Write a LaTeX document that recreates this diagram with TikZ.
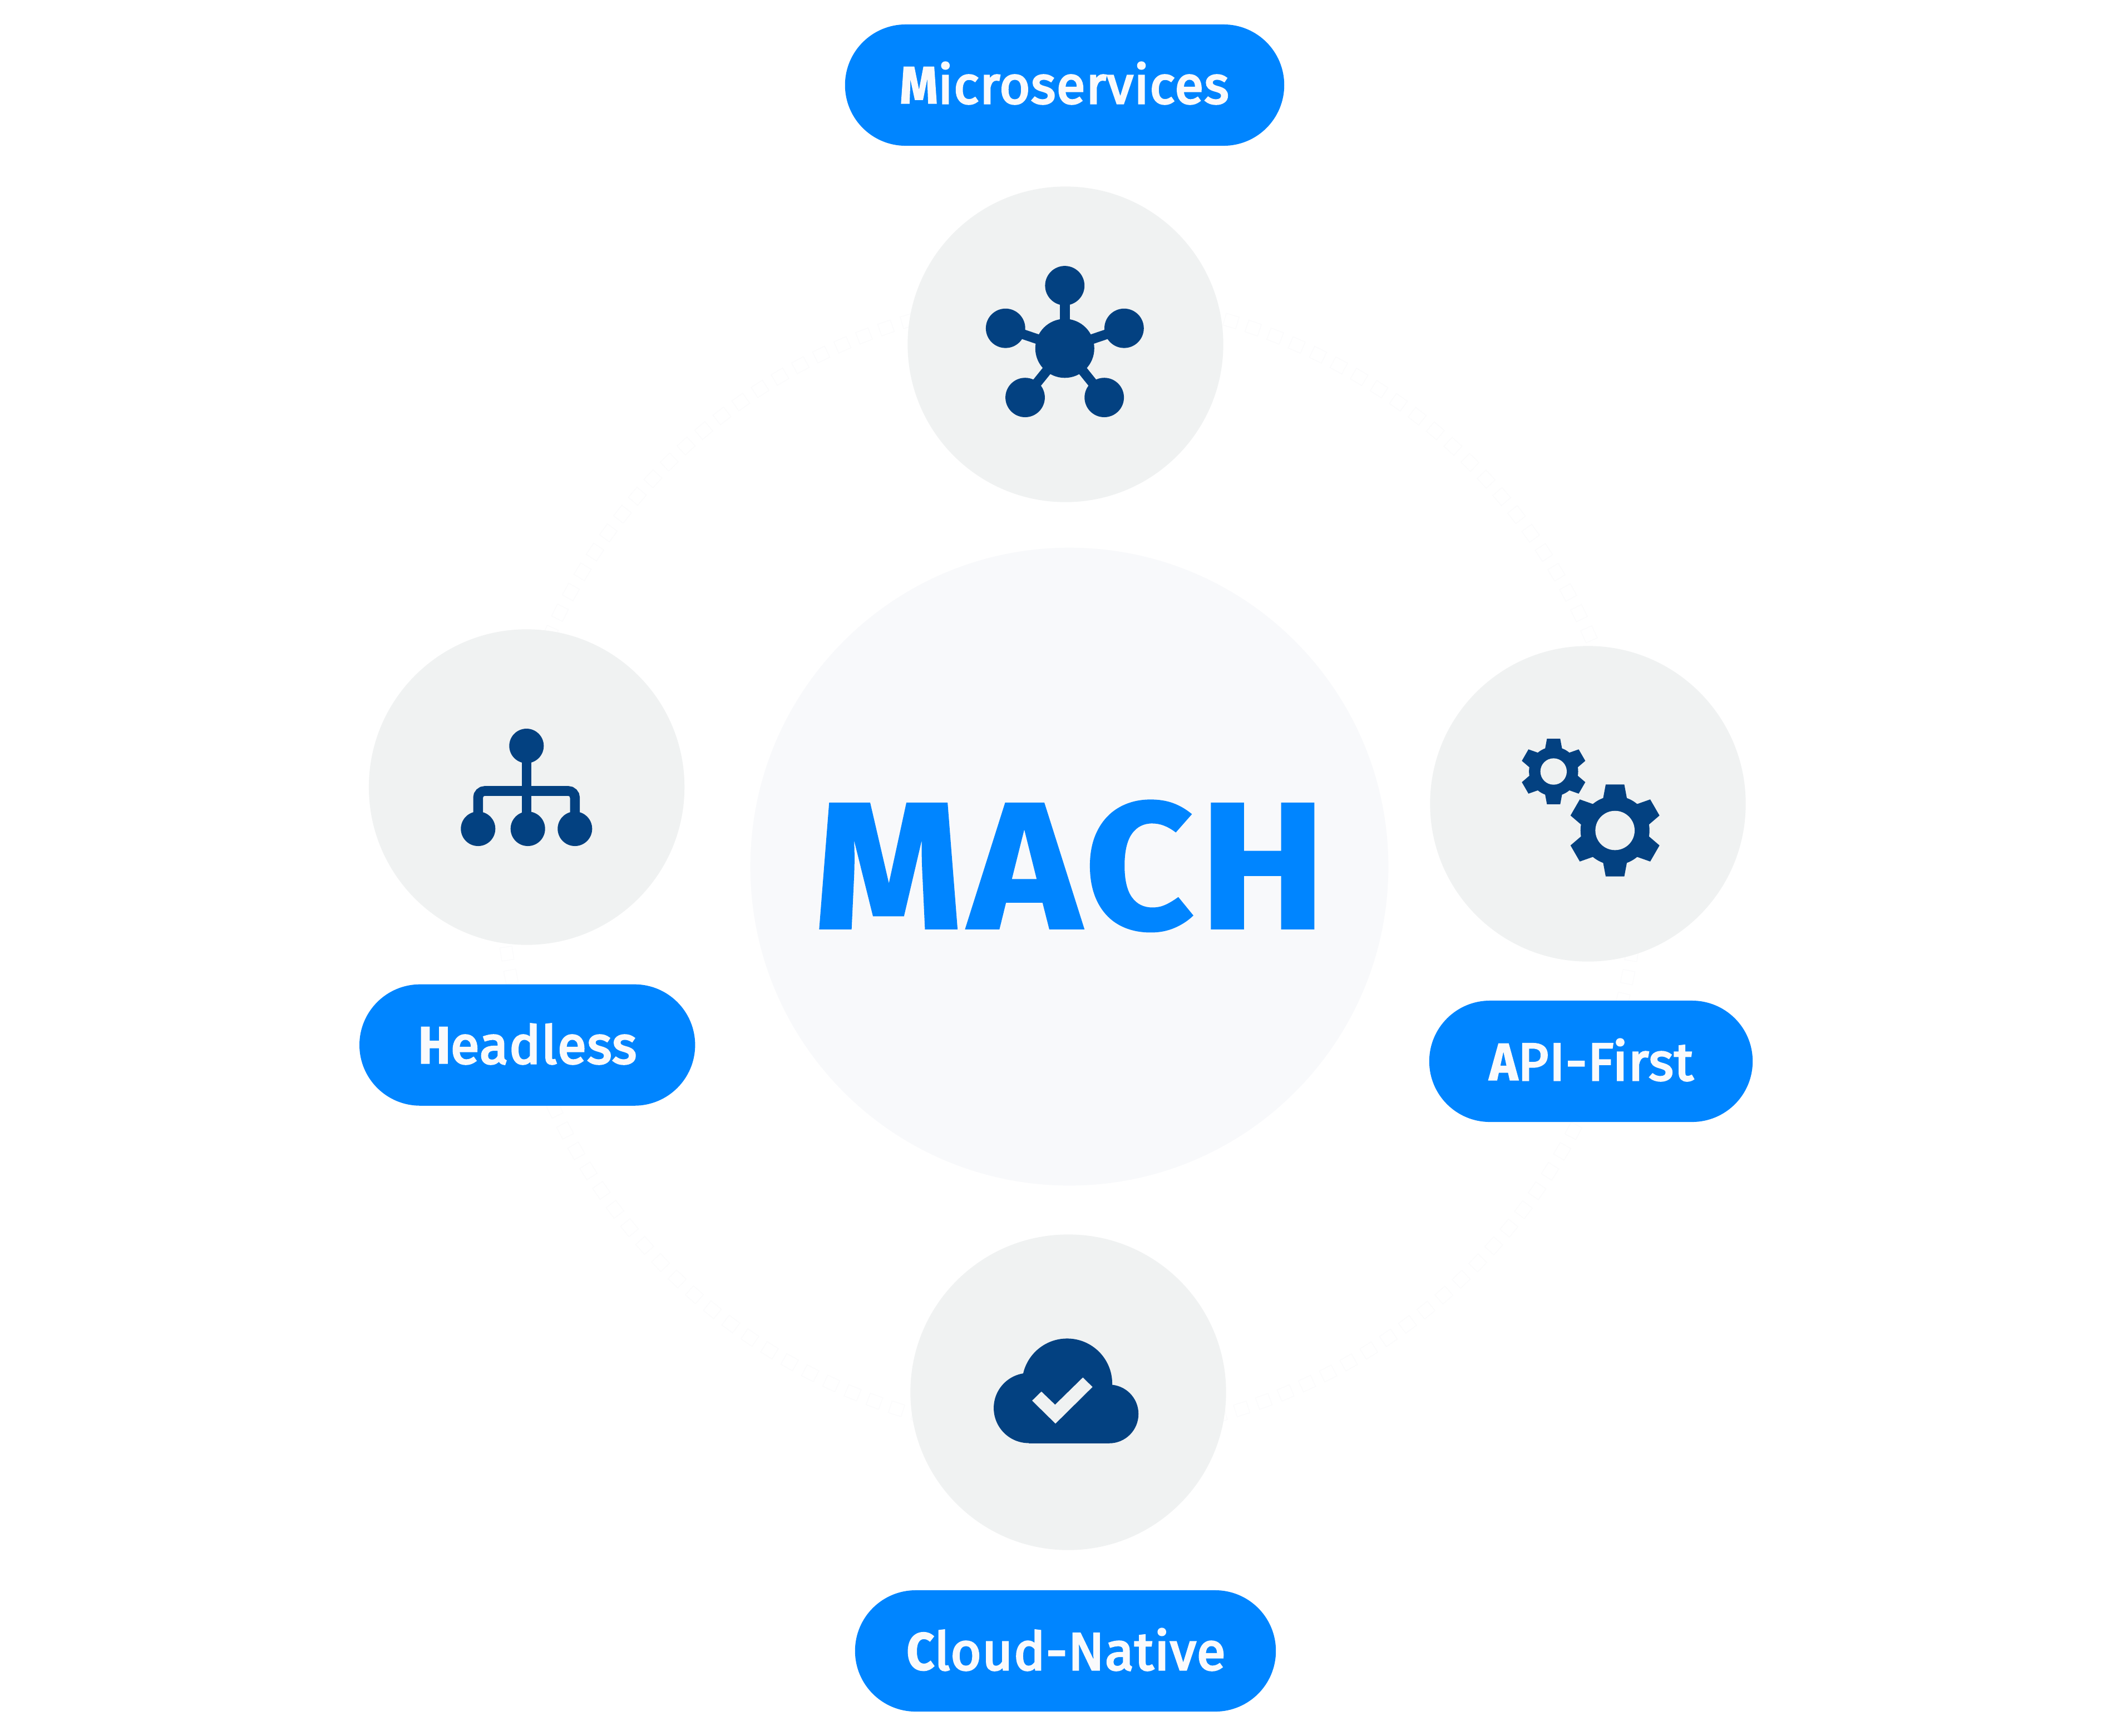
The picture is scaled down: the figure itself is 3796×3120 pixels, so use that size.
\documentclass[tikz,border=0pt]{standalone}
\usepackage{fontspec}
\setmainfont{Fira Sans}
\newfontfamily\machfont[FakeStretch=1.05,FakeBold=1.2,LetterSpace=3.5]{Fira Sans Bold}
\newfontfamily\pillfont[FakeBold=3.5,LetterSpace=1.5]{Fira Sans}
\newfontfamily\pillcap[FakeStretch=0.92,FakeBold=1.5,LetterSpace=1.5]{Fira Sans Bold}
\definecolor{pillblue}{HTML}{0085FF}
\definecolor{navy}{HTML}{034181}
\definecolor{disc}{HTML}{F0F2F2}
\definecolor{hub}{HTML}{F8F9FB}
\definecolor{lbl}{HTML}{FAFAFC}
\definecolor{ringline}{HTML}{FBFBFC}
\tikzset{
  discnode/.style={circle,fill=disc,minimum size=5.67cm,inner sep=0,draw=none},
  pillnode/.style={rectangle,rounded corners=1.09cm,fill=pillblue,inner sep=0,minimum height=2.18cm,draw=none},
  pilltext/.style={anchor=base,inner sep=0,text=lbl,font=\fontsize{27}{30}\selectfont\pillfont},
  ic/.style={fill=navy,draw=none},
  icline/.style={draw=navy,line width=.176cm,line cap=butt},
  ringdash/.style={draw=ringline,fill=white,line width=.012cm},
}
\newcommand{\gearshape}[3]{%
  \begin{scope}[shift={(#1,#2)},scale=#3]
    \fill[navy] (0,0) circle (62);
    \foreach \r in {0,60,...,300}{
      \fill[navy,rotate=\r] (-21.7,-56) -- (-16.7,-82.7) -- (16.7,-82.7) -- (21.7,-56) -- cycle;
    }
  \end{scope}}
\begin{document}
\begin{tikzpicture}[x=0.01cm,y=-0.01cm]
\useasboundingbox (0,0) rectangle (3796,3120);
\fill[white] (0,0) rectangle (3796,3120);
% faint dashed ring
\foreach \i in {0,...,152}{
  \pgfmathsetmacro\a{73.5+\i*2.353}
  \draw[ringdash,shift={(1922,1558)},rotate=\a] (1012,-12) rectangle (1034,12);
}
% discs
\node[circle,fill=hub,minimum size=11.46cm,inner sep=0] (hubdisc) at (1922,1558) {};
\node[discnode] (dmicro) at (1915,619) {};
\node[discnode] (dhead) at (946.6,1415) {};
\node[discnode] (dapi) at (2854,1445) {};
\node[discnode] (dcloud) at (1920,2503) {};
% central title
\node[anchor=base,inner sep=0,text=pillblue,font=\fontsize{92}{100}\selectfont\machfont] (mach) at (1923,1669) {MACH};
% pills
\node[pillnode,minimum width=7.89cm] (pmicro) at (1913.5,153) {};
\node[pillnode,minimum width=6.03cm] (phead) at (947.7,1878.7) {};
\node[pillnode,minimum width=5.81cm] (papi) at (2859.5,1908) {};
\node[pillnode,minimum width=7.56cm] (pcloud) at (1915,2968) {};
\node[pilltext] (tmicro) at (1913,186) {{\pillcap M}icroservices};
\node[pilltext] (thead) at (948,1912) {{\pillcap H}eadless};
\node[pilltext] (tapi) at (2860,1942) {{\pillcap A}PI-First};
\node[pilltext] (tcloud) at (1916,3002) {{\pillcap C}loud-Native};
% microservices icon
\coordinate (mc) at (1913.8,626.3);
\coordinate (m1) at (1913.8,513.5);
\coordinate (m2) at (1807.3,590.2);
\coordinate (m3) at (2020.4,590.2);
\coordinate (m4) at (1842.5,714.6);
\coordinate (m5) at (1984.7,714.6);
\foreach \m in {m1,m2,m3,m4,m5}{
  \draw[icline] (mc) -- (\m);
  \fill[navy] (\m) circle (35.4);
}
\fill[navy] (mc) circle (53);
% headless icon
\coordinate (h0) at (946.3,1341);
\coordinate (h1) at (859.3,1490);
\coordinate (h2) at (948.7,1490);
\coordinate (h3) at (1033.3,1490);
\draw[icline] (h0) -- (946.3,1490);
\draw[icline,rounded corners=.12cm] (h1) -- (859.3,1422) -- (1033.3,1422) -- (h3);
\foreach \m in {h0,h1,h2,h3}{\fill[navy] (\m) circle (31);}
% gears
\gearshape{2792.3}{1387}{0.713}
\fill[disc] (2792.3,1387) circle (23.7);
\gearshape{2902.7}{1493}{1}
\fill[disc] (2902.7,1493) circle (35.3);
% cloud
\begin{scope}[shift={(1700,2350)},x=0.003333cm,y=-0.003333cm]
  \fill[navy] (448,545) circle [radius=.63cm];
  \fill[navy] (882,577) circle [radius=.527cm];
  \fill[navy] (655,413) circle [radius=.81cm];
  \fill[navy] (448,420) rectangle (882,736);
  \fill[disc] (466,505) -- (516,456) -- (590,527) -- (740,380) -- (792,431) -- (592,629) -- cycle;
\end{scope}
\end{tikzpicture}
\end{document}
